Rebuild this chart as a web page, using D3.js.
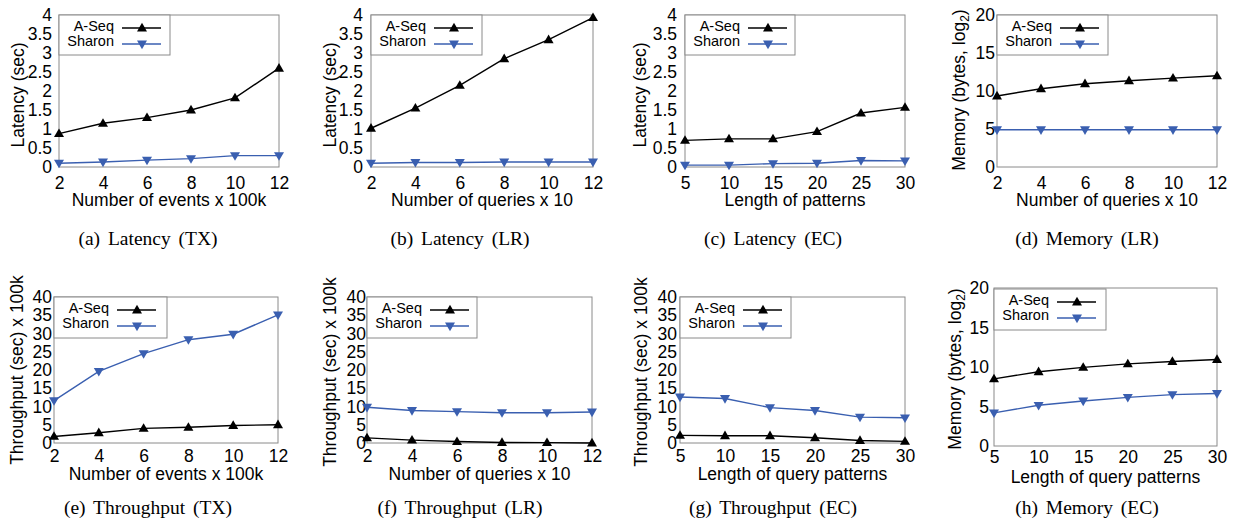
<!DOCTYPE html>
<html><head><meta charset="utf-8">
<script src="https://cdn.jsdelivr.net/npm/d3@7"></script>
<style>body{margin:0;background:#fff;} svg{display:block;}</style>
</head><body><svg id="c" width="1236" height="527"></svg>
<script>
// ---------- data ----------
const eventsX  = [2,4,6,8,10,12];
const queriesX = [2,4,6,8,10,12];
const lengthX  = [5,10,15,20,25,30];

const latencyTicks    = [0,0.5,1,1.5,2,2.5,3,3.5,4];
const throughputTicks = [0,5,10,15,20,25,30,35,40];
const memoryTicks     = [0,5,10,15,20];

const seriesNames = ["A-Seq","Sharon"];

const latTX_ASeq   = [0.88,1.15,1.3,1.5,1.82,2.6];
const latTX_Sharon = [0.1,0.13,0.18,0.22,0.3,0.3];
const latLR_ASeq   = [1.02,1.55,2.15,2.85,3.35,3.93];
const latLR_Sharon = [0.1,0.12,0.12,0.13,0.13,0.13];
const latEC_ASeq   = [0.7,0.74,0.74,0.93,1.42,1.57];
const latEC_Sharon = [0.05,0.05,0.09,0.1,0.17,0.16];
const memLR_ASeq   = [9.35,10.3,10.95,11.35,11.7,12.0];
const memLR_Sharon = [4.9,4.9,4.9,4.9,4.9,4.9];
const thrTX_ASeq   = [1.8,2.8,4.0,4.3,4.8,5.0];
const thrTX_Sharon = [11.6,19.6,24.5,28.3,29.8,35.1];
const thrLR_ASeq   = [1.4,0.8,0.4,0.15,0.1,0.0];
const thrLR_Sharon = [9.8,8.9,8.6,8.3,8.3,8.5];
const thrEC_ASeq   = [2.1,2.0,2.0,1.45,0.7,0.45];
const thrEC_Sharon = [12.6,12.2,9.7,8.9,7.1,6.9];
const memEC_ASeq   = [8.5,9.4,9.95,10.4,10.7,10.95];
const memEC_Sharon = [4.2,5.15,5.7,6.15,6.5,6.65];

const xTitles = ["Number of events x 100k","Number of queries x 10","Length of patterns","Number of queries x 10",
                 "Number of events x 100k","Number of queries x 10","Length of query patterns","Length of query patterns"];
const yTitles = ["Latency (sec)","Latency (sec)","Latency (sec)","MEM",
                 "Throughput (sec) x 100k","Throughput (sec) x 100k","Throughput (sec) x 100k","MEM"];
const captions = ["(a) Latency (TX)","(b) Latency (LR)","(c) Latency (EC)","(d) Memory (LR)",
                  "(e) Throughput (TX)","(f) Throughput (LR)","(g) Throughput (EC)","(h) Memory (EC)"];

// ---------- panel table (built from the arrays) ----------
const panelData = [
  {xs:eventsX,  a:latTX_ASeq, s:latTX_Sharon, ticks:latencyTicks},
  {xs:queriesX, a:latLR_ASeq, s:latLR_Sharon, ticks:latencyTicks},
  {xs:lengthX,  a:latEC_ASeq, s:latEC_Sharon, ticks:latencyTicks},
  {xs:queriesX, a:memLR_ASeq, s:memLR_Sharon, ticks:memoryTicks},
  {xs:eventsX,  a:thrTX_ASeq, s:thrTX_Sharon, ticks:throughputTicks},
  {xs:queriesX, a:thrLR_ASeq, s:thrLR_Sharon, ticks:throughputTicks},
  {xs:lengthX,  a:thrEC_ASeq, s:thrEC_Sharon, ticks:throughputTicks},
  {xs:lengthX,  a:memEC_ASeq, s:memEC_Sharon, ticks:memoryTicks}
];

// ---------- layout ----------
const layout = [
  {x0:59,  x1:279,  top:15,  bot:167, yLabR:52,  yTitleX:18,  yTitleY:95,  xPad:10, xTitleY:200, legTop:15,  legW:111, legH:40, capX:148,  capY:245},
  {x0:371, x1:593,  top:15,  bot:167, yLabR:363, yTitleX:330, yTitleY:95,  xPad:10, xTitleY:200, legTop:15,  legW:111, legH:40, capX:460,  capY:245},
  {x0:685, x1:905,  top:15,  bot:167, yLabR:677, yTitleX:640, yTitleY:95,  xPad:10, xTitleY:200, legTop:15,  legW:110, legH:40, capX:773,  capY:245},
  {x0:997, x1:1217, top:15,  bot:167, yLabR:995, yTitleX:959, yTitleY:90,  xPad:10, xTitleY:200, legTop:15,  legW:111, legH:40, capX:1087, capY:245},
  {x0:54,  x1:278,  top:297, bot:443, yLabR:52,  yTitleX:17,  yTitleY:370, xPad:7,  xTitleY:474, legTop:297, legW:113, legH:41, capX:148,  capY:514},
  {x0:367, x1:592,  top:297, bot:443, yLabR:366, yTitleX:330, yTitleY:372, xPad:7,  xTitleY:474, legTop:297, legW:110, legH:41, capX:460,  capY:514},
  {x0:680, x1:905,  top:297, bot:443, yLabR:677, yTitleX:641, yTitleY:372, xPad:7,  xTitleY:474, legTop:297, legW:111, legH:41, capX:773,  capY:514},
  {x0:994, x1:1217, top:288, bot:446, yLabR:989, yTitleX:955, yTitleY:369, xPad:5,  xTitleY:477, legTop:289, legW:112, legH:41, capX:1087, capY:514}
];

const BLUE = "#3a5fb0";
const FONT = "'Liberation Sans', Arial, Helvetica, sans-serif";
const SERIF = "'Liberation Serif', 'Times New Roman', Times, serif";
const svg = d3.select("#c");

function tri(up){
  const w=10,h=8.6;
  return up ? `M0,${-h*0.6}L${w/2},${h*0.4}L${-w/2},${h*0.4}Z`
            : `M0,${h*0.6}L${w/2},${-h*0.4}L${-w/2},${-h*0.4}Z`;
}

panelData.forEach((pd,i)=>{
  const L = layout[i];
  const g = svg.append("g");
  const x = d3.scaleLinear().domain(d3.extent(pd.xs)).range([L.x0,L.x1]);
  const y = d3.scaleLinear().domain([0,d3.max(pd.ticks)]).range([L.bot,L.top]);

  // frame
  g.append("rect").attr("x",L.x0).attr("y",L.top).attr("width",L.x1-L.x0).attr("height",L.bot-L.top)
    .attr("fill","none").attr("stroke","#8a8a8a").attr("stroke-width",1);

  // y axis
  const ya = g.append("g").attr("transform",`translate(${L.x0},0)`)
    .call(d3.axisLeft(y).tickValues(pd.ticks).tickSize(0).tickPadding(L.x0-L.yLabR).tickFormat(d=>String(d)));
  ya.select(".domain").remove();
  ya.selectAll("text").attr("font-family",FONT).attr("font-size","17.5px").attr("fill","#000");

  // x axis
  const xa = g.append("g").attr("transform",`translate(0,${L.bot})`)
    .call(d3.axisBottom(x).tickValues(pd.xs).tickSize(0).tickPadding(L.xPad).tickFormat(d=>String(d)));
  xa.select(".domain").remove();
  xa.selectAll("text").attr("font-family",FONT).attr("font-size","17.5px").attr("fill","#000");

  // x title
  g.append("text").attr("x",(L.x0+L.x1)/2).attr("y",L.xTitleY).attr("dy","0.35em")
    .attr("text-anchor","middle").attr("font-family",FONT).attr("font-size","17.5px").text(xTitles[i]);

  // y title
  const yt = g.append("text").attr("transform",`translate(${L.yTitleX},${L.yTitleY}) rotate(-90)`)
    .attr("dy","0.35em").attr("text-anchor","middle").attr("font-family",FONT).attr("font-size","17.5px");
  if (yTitles[i]==="MEM"){
    yt.append("tspan").text("Memory (bytes, log");
    yt.append("tspan").attr("font-size","12px").attr("dy","4").text("2");
    yt.append("tspan").attr("dy","-4").text(")");
  } else yt.text(yTitles[i]);

  // legend box
  g.append("rect").attr("x",L.x0).attr("y",L.legTop).attr("width",L.legW).attr("height",L.legH)
    .attr("fill","#fff").attr("stroke","#8a8a8a").attr("stroke-width",1);

  const series = [{name:seriesNames[0], vals:pd.a, color:"#000", up:true},
                  {name:seriesNames[1], vals:pd.s, color:BLUE, up:false}];
  const line = d3.line().x((d,k)=>x(pd.xs[k])).y(d=>y(d));

  series.forEach((s,k)=>{
    g.append("path").datum(s.vals).attr("d",line).attr("fill","none")
      .attr("stroke",s.color).attr("stroke-width",1.4);
    g.selectAll(null).data(s.vals).enter().append("path")
      .attr("d",tri(s.up)).attr("transform",(d,j)=>`translate(${x(pd.xs[j])},${y(d)})`)
      .attr("fill",s.color);

    // legend entry
    const ty = L.legTop + 10.5 + k*15.5;
    const ly = L.legTop + 13 + k*16;
    g.append("text").attr("x",L.x0+55).attr("y",ty).attr("dy","0.35em").attr("text-anchor","end")
      .attr("font-family",FONT).attr("font-size","14.5px").text(s.name);
    g.append("line").attr("x1",L.x0+63).attr("x2",L.x0+102).attr("y1",ly).attr("y2",ly)
      .attr("stroke",s.color).attr("stroke-width",1.4);
    g.append("path").attr("d",tri(s.up)).attr("transform",`translate(${L.x0+83},${ly})`).attr("fill",s.color);
  });

  // caption
  svg.append("text").attr("x",L.capX).attr("y",L.capY).attr("text-anchor","middle")
    .attr("font-family",SERIF).attr("font-size","19.5px").attr("word-spacing","3px").text(captions[i]);
});
</script>
</body></html>
